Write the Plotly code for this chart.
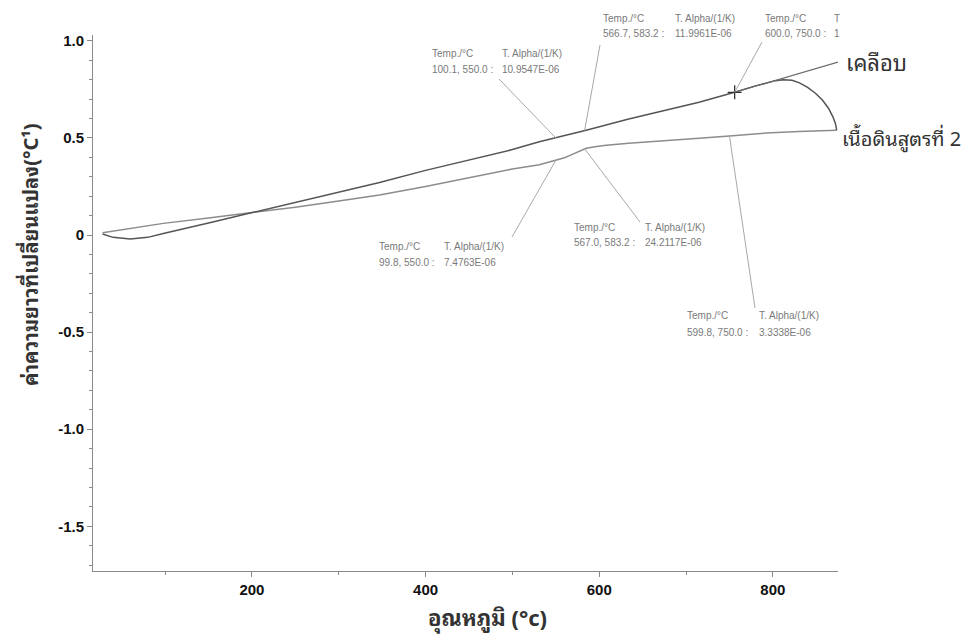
import numpy as np
import plotly.graph_objects as go

# ---------------- data ----------------
glaze_T = [28, 40, 60, 80, 98, 125, 155, 198, 250, 300, 347, 400, 450, 500, 531, 550,
           585, 634, 680, 715, 756, 780, 803, 812, 822, 830, 840, 849, 857, 864, 869, 872, 873.5]
glaze_dL = [0.005, -0.012, -0.02, -0.012, 0.008, 0.035, 0.067, 0.113, 0.167, 0.22, 0.27, 0.333,
            0.385, 0.44, 0.48, 0.50, 0.54, 0.597, 0.645, 0.684, 0.735, 0.768, 0.795, 0.80, 0.797,
            0.785, 0.76, 0.73, 0.695, 0.653, 0.61, 0.575, 0.54]

body_T = [28, 60, 98, 150, 198, 250, 300, 347, 400, 439, 500, 531, 551, 560, 569, 577, 585,
          595, 608, 634, 669, 715, 750, 792, 830, 873.5]
body_dL = [0.012, 0.035, 0.06, 0.088, 0.113, 0.143, 0.175, 0.206, 0.25, 0.285, 0.34, 0.362,
           0.386, 0.398, 0.415, 0.433, 0.447, 0.455, 0.462, 0.472, 0.482, 0.498, 0.51, 0.525,
           0.533, 0.54]

series_names = ["เคลือบ", "เนื้อดินสูตรที่ 2"]

x_ticks = [200, 400, 600, 800]
y_ticks = [-1.5, -1.0, -0.5, 0, 0.5, 1.0]
y_ticktext = ["-1.5", "-1.0", "-0.5", "0", "0.5", "1.0"]

# annotation readouts: (col1 line1, col2 line1, col1 line2, col2 line2, series, T on curve)
readouts = [
    ("Temp./°C", "T. Alpha/(1/K)", "100.1, 550.0 :", "10.9547E-06", "glaze", 550.0),
    ("Temp./°C", "T. Alpha/(1/K)", "566.7, 583.2 :", "11.9961E-06", "glaze", 583.2),
    ("Temp./°C", "T", "600.0, 750.0 :", "1", "glaze", 756.0),
    ("Temp./°C", "T. Alpha/(1/K)", "99.8, 550.0 :", "7.4763E-06", "body", 550.0),
    ("Temp./°C", "T. Alpha/(1/K)", "567.0, 583.2 :", "24.2117E-06", "body", 583.2),
    ("Temp./°C", "T. Alpha/(1/K)", "599.8, 750.0 :", "3.3338E-06", "body", 750.0),
]

# ---------------- layout geometry ----------------
# page body has an 8px margin, so the figure is drawn 8px smaller and offset
OFF = 8
W, H = 974 - OFF, 635 - OFF
PL, PR, PT, PB = 93, 838, 35, 571          # plot box in page pixels
XR = [17, 875]
YR = [-1.73, 1.03]
pw, ph = PR - PL, PB - PT


def px2paper(xp, yp):
    return (xp - PL) / pw, (PB - yp) / ph


def px2data(xp, yp):
    return (XR[0] + (xp - PL) / pw * (XR[1] - XR[0]),
            YR[0] + (PB - yp) / ph * (YR[1] - YR[0]))


fig = go.Figure()
fig.add_trace(go.Scatter(x=body_T, y=body_dL, mode="lines", name=series_names[1],
                         line=dict(color="#8c8c8c", width=1.5), hoverinfo="skip"))
fig.add_trace(go.Scatter(x=glaze_T, y=glaze_dL, mode="lines", name=series_names[0],
                         line=dict(color="#555555", width=1.5), hoverinfo="skip"))

# crosshair marker on glaze curve
cross_T = 756.0
cross_y = float(np.interp(cross_T, glaze_T, glaze_dL))
fig.add_trace(go.Scatter(x=[cross_T], y=[cross_y],
                         mode="markers", marker=dict(symbol="cross-thin", size=10,
                                                     line=dict(color="#333333", width=1.3)),
                         hoverinfo="skip"))

# text positions (page pixels): col1 x, col2 x, line1 y, line2 y, leader top (x,y)
text_pos = [
    (430, 500, 54, 69, (499, 79)),
    (601, 673, 19, 34, (600, 45)),
    (763, 832, 19, 34, (762, 42)),
    (377, 442, 246, 262, (512, 237)),
    (572, 643, 227, 242, (640, 222)),
    (685, 757, 315, 332, (755, 308)),
]

ann = []
shapes = []
txt_font = dict(family="Liberation Sans, Arial", size=10, color="#7a7a7a")
for (c1a, c2a, c1b, c2b, ser, tcurve), (x1, x2, y1, y2, top) in zip(readouts, text_pos):
    for txt, xp, yp in [(c1a, x1, y1), (c2a, x2, y1), (c1b, x1, y2), (c2b, x2, y2)]:
        px, py = px2paper(xp, yp)
        ann.append(dict(x=px, y=py, xref="paper", yref="paper", text=txt, showarrow=False,
                        xanchor="left", yanchor="middle", font=txt_font))
    if ser == "glaze":
        yc = float(np.interp(tcurve, glaze_T, glaze_dL))
    else:
        yc = float(np.interp(tcurve, body_T, body_dL))
    tx, ty = px2data(*top)
    shapes.append(dict(type="line", xref="x", yref="y", x0=tx, y0=ty, x1=tcurve, y1=yc,
                       line=dict(color="#a8a8a8", width=1)))

# leader for the glaze label
lx, ly = px2data(838, 62)
shapes.append(dict(type="line", xref="x", yref="y", x0=cross_T, y0=cross_y, x1=lx, y1=ly,
                   line=dict(color="#6a6a6a", width=1.2)))

# series labels
thai_font = "Noto Sans Thai Looped, Noto Sans Thai, Noto Sans, Liberation Sans, sans-serif"
p = px2paper(844, 61)
ann.append(dict(x=p[0], y=p[1], xref="paper", yref="paper", text=series_names[0],
                showarrow=False, xanchor="left", yanchor="middle",
                font=dict(family=thai_font, size=22, color="#333333")))
p = px2paper(840, 137)
ann.append(dict(x=p[0], y=p[1], xref="paper", yref="paper", text=series_names[1],
                showarrow=False, xanchor="left", yanchor="middle",
                font=dict(family=thai_font, size=20, color="#333333")))

# axis titles
p = px2paper(487, 616)
ann.append(dict(x=p[0], y=p[1], xref="paper", yref="paper", text="<b>อุณหภูมิ (°c)</b>",
                showarrow=False, xanchor="center", yanchor="middle",
                font=dict(family=thai_font, size=22, color="#333333")))
p = px2paper(29, 255)
ann.append(dict(x=p[0], y=p[1], xref="paper", yref="paper",
                text="<b>ค่าความยาวที่เปลี่ยนแปลง(°C¹)</b>", textangle=-90,
                showarrow=False, xanchor="center", yanchor="middle",
                font=dict(family=thai_font, size=20, color="#333333")))

tick_font = dict(family="Liberation Sans, Arial", size=15, color="#111111")
fig.update_layout(
    width=W, height=H,
    margin=dict(l=PL - OFF, r=W - (PR - OFF), t=PT - OFF, b=H - (PB - OFF)),
    paper_bgcolor="white", plot_bgcolor="white",
    showlegend=False,
    annotations=ann, shapes=shapes,
    xaxis=dict(range=XR, tickvals=x_ticks, ticktext=[f"<b>{v}</b>" for v in x_ticks],
               showgrid=False, zeroline=False, showline=True, linecolor="#8a8a8a",
               linewidth=1, ticks="outside", ticklen=5, tickcolor="#8a8a8a",
               tickfont=tick_font,
               minor=dict(dtick=100, tick0=0, ticks="outside", ticklen=3,
                          tickcolor="#8a8a8a", showgrid=False)),
    yaxis=dict(range=YR, tickvals=y_ticks, ticktext=[f"<b>{t}</b>" for t in y_ticktext],
               showgrid=False, zeroline=False, showline=True, linecolor="#8a8a8a",
               linewidth=1, ticks="outside", ticklen=5, tickcolor="#8a8a8a",
               tickfont=tick_font,
               minor=dict(dtick=0.1, tick0=0, ticks="outside", ticklen=3,
                          tickcolor="#8a8a8a", showgrid=False)),
)

fig.write_html("out.html")
